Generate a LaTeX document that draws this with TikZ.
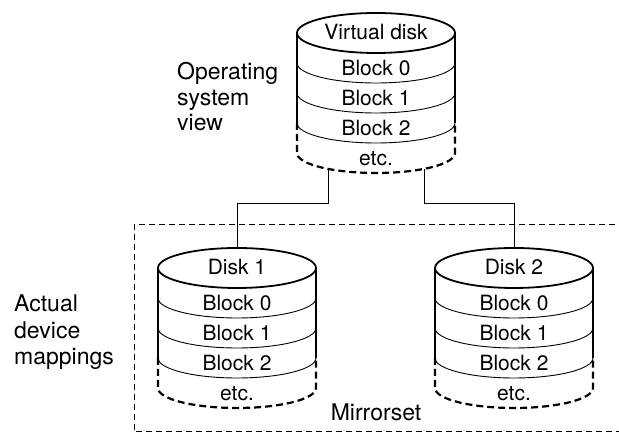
\documentclass[tikz,border=0pt]{standalone}
\usepackage{fontspec}
\setmainfont{TeX Gyre Heros}
\tikzset{
  outerline/.style={line width=1.8pt},
  innerline/.style={line width=0.9pt},
  dashbottom/.style={line width=2.2pt, dash pattern=on 7pt off 4pt},
  conn/.style={line width=0.9pt},
  boxdash/.style={line width=1pt, dash pattern=on 6pt off 4pt},
  lbl/.style={inner sep=0pt, font=\fontsize{21}{26}\selectfont},
  sidelbl/.style={inner sep=0pt, font=\fontsize{23}{27}\selectfont},
}
\newcommand\drawdisk[4]{%
  \begin{scope}[shift={(#2,#3)}]
    \draw[outerline] (-79,0) -- (-79,-90) (79,0) -- (79,-90);
    \foreach \k in {1,2,3}
      \draw[innerline] (-79,-30*\k) arc[start angle=180,end angle=360,x radius=79,y radius=20];
    \draw[dashbottom] (-79,-90) -- (-79,-120) arc[start angle=180,end angle=360,x radius=79,y radius=20] -- (79,-90);
    \draw[outerline] (0,0) ellipse[x radius=79, y radius=20];
    \node[lbl, anchor=base] (#1-title) at (0,-7) {#4};
    \node[lbl, anchor=base] (#1-b0) at (0,-43) {Block 0};
    \node[lbl, anchor=base] (#1-b1) at (0,-73) {Block 1};
    \node[lbl, anchor=base] (#1-b2) at (0,-103) {Block 2};
    \node[lbl, anchor=base] (#1-etc) at (0,-133) {etc.};
    \coordinate (#1-top) at (0,20);
    \coordinate (#1-botL) at (-48,-135.9);
    \coordinate (#1-botR) at (48,-135.9);
  \end{scope}}
\begin{document}
\begin{tikzpicture}[x=1pt,y=1pt]
  \useasboundingbox (0,0) rectangle (619,435);
  % mirrorset box
  \draw[boxdash] (625,210) -- (134,210) -- (134,3) -- (625,3);
  \drawdisk{v}{376}{402}{Virtual disk}
  \drawdisk{d1}{237}{167}{Disk 1}
  \drawdisk{d2}{514}{167}{Disk 2}
  % connectors
  \draw[conn] (v-botL) -- (v-botL |- 0,232) -| (d1-top);
  \draw[conn] (v-botR) -- (v-botR |- 0,232) -| (d2-top);
  % labels
  \node[sidelbl, anchor=base west] (os1) at (177,355) {Operating};
  \node[sidelbl, anchor=base west] (os2) at (177,329) {system};
  \node[sidelbl, anchor=base west] (os3) at (177,304) {view};
  \node[sidelbl, anchor=base west] (ad1) at (14,123) {Actual};
  \node[sidelbl, anchor=base west] (ad2) at (14,96) {device};
  \node[sidelbl, anchor=base west] (ad3) at (14,70) {mappings};
  \node[sidelbl, anchor=base] (mirror) at (376,14) {Mirrorset};
\end{tikzpicture}
\end{document}
